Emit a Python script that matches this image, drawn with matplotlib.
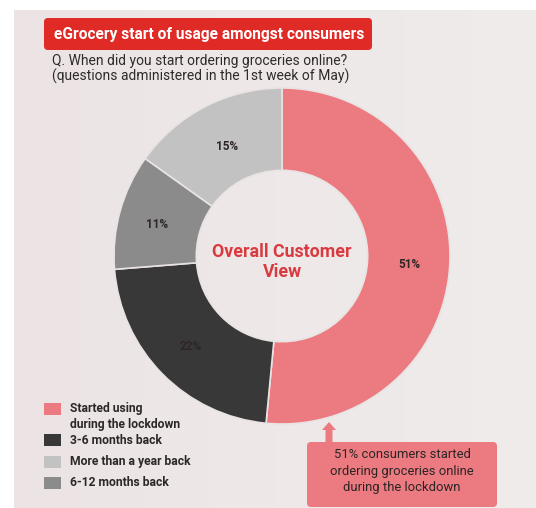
import matplotlib.pyplot as plt
import numpy as np
from matplotlib.patches import FancyBboxPatch, Rectangle, FancyArrow

plt.rcParams['font.family'] = ['Roboto', 'DejaVu Sans']

# survey shares, drawn clockwise from 12 o'clock
segments = ['Started using\nduring the lockdown', '3-6 months back',
            '6-12 months back', 'More than a year back']
shares = [51, 22, 11, 15]
colors = ['#ec7b81', '#383838', '#8b8b8b', '#c3c2c2']

legend_order = ['Started using\nduring the lockdown', '3-6 months back',
                'More than a year back', '6-12 months back']

W, H = 536, 508
fig = plt.figure(figsize=(W / 100, H / 100), dpi=100)
ax = fig.add_axes([0, 0, 1, 1])

def Y(y):
    # top-down pixel rows to axis units
    return H - y

# panel background, slightly lighter towards the right
grad = np.linspace(0, 1, 200)[None, :]
bg = np.ones((1, 200, 3))
left, right = np.array([236, 228, 228]) / 255, np.array([240, 236, 236]) / 255
bg[0] = left + (right - left) * grad[0][:, None]
ax.imshow(bg, extent=(14, W, 0, H - 10), aspect='auto', zorder=0, interpolation='bilinear')

cx, cy, r = 282, Y(256), 168
wedges, _ = ax.pie(shares, colors=colors, startangle=90, counterclock=False,
                   center=(cx, cy), radius=r, frame=True,
                   wedgeprops=dict(width=r * 0.49, edgecolor='#e9e3e3', linewidth=1.2))

# percentage labels
label_pos = {51: (409, 265), 22: (191, 347), 11: (157, 225), 15: (227, 146)}
for v in shares:
    x, y = label_pos[v]
    ax.text(x, Y(y), f'{v}%', ha='center', va='center', fontsize=8.5,
            fontweight='bold', color='#2e2626')

ax.text(cx, Y(262), 'Overall Customer\nView', ha='center', va='center',
        fontsize=12.8, color='#d93a40', fontweight='bold', linespacing=1.15)

# title banner
ax.add_patch(FancyBboxPatch((44, Y(50)), 328, 32, boxstyle='round,pad=0,rounding_size=4',
                            facecolor='#df2a26', edgecolor='none', zorder=3))
ax.text(54, Y(34), 'eGrocery start of usage amongst consumers', ha='left', va='center',
        fontsize=11.2, fontweight='bold', color='white', zorder=4)
ax.text(52, Y(61), 'Q. When did you start ordering groceries online?', ha='left',
        va='center', fontsize=10, color='#2f2b2b')
ax.text(52, Y(76), '(questions administered in the 1st week of May)', ha='left',
        va='center', fontsize=10, color='#2f2b2b')

# legend
leg_rows = [409, 440, 462, 483]
for lab, yy in zip(legend_order, leg_rows):
    c = colors[segments.index(lab)]
    ax.add_patch(Rectangle((44, Y(yy + 6)), 17, 12, facecolor=c, edgecolor='none'))
    ax.text(70, Y(yy - 7) if '\n' in lab else Y(yy), lab, ha='left',
            va='top' if '\n' in lab else 'center',
            fontsize=8.7, fontweight='bold', color='#2c2828', linespacing=1.3)

# callout
ax.add_patch(FancyArrow(329, Y(443), 0, 21, width=7, head_width=14, head_length=8,
                        length_includes_head=True, facecolor='#ec7b81', edgecolor='none'))
ax.add_patch(FancyBboxPatch((307, Y(507)), 190, 65, boxstyle='round,pad=0,rounding_size=4',
                            facecolor='#ec7b81', edgecolor='none'))
ax.text(402, Y(471), f'{shares[0]}% consumers started\nordering groceries online\nduring the lockdown',
        ha='center', va='center', fontsize=9.4, color='#2c2424', linespacing=1.3)

ax.set_xlim(0, W)
ax.set_ylim(0, H)
ax.set_aspect('equal')
ax.axis('off')

fig.savefig('out.png', dpi=100, facecolor='white')
